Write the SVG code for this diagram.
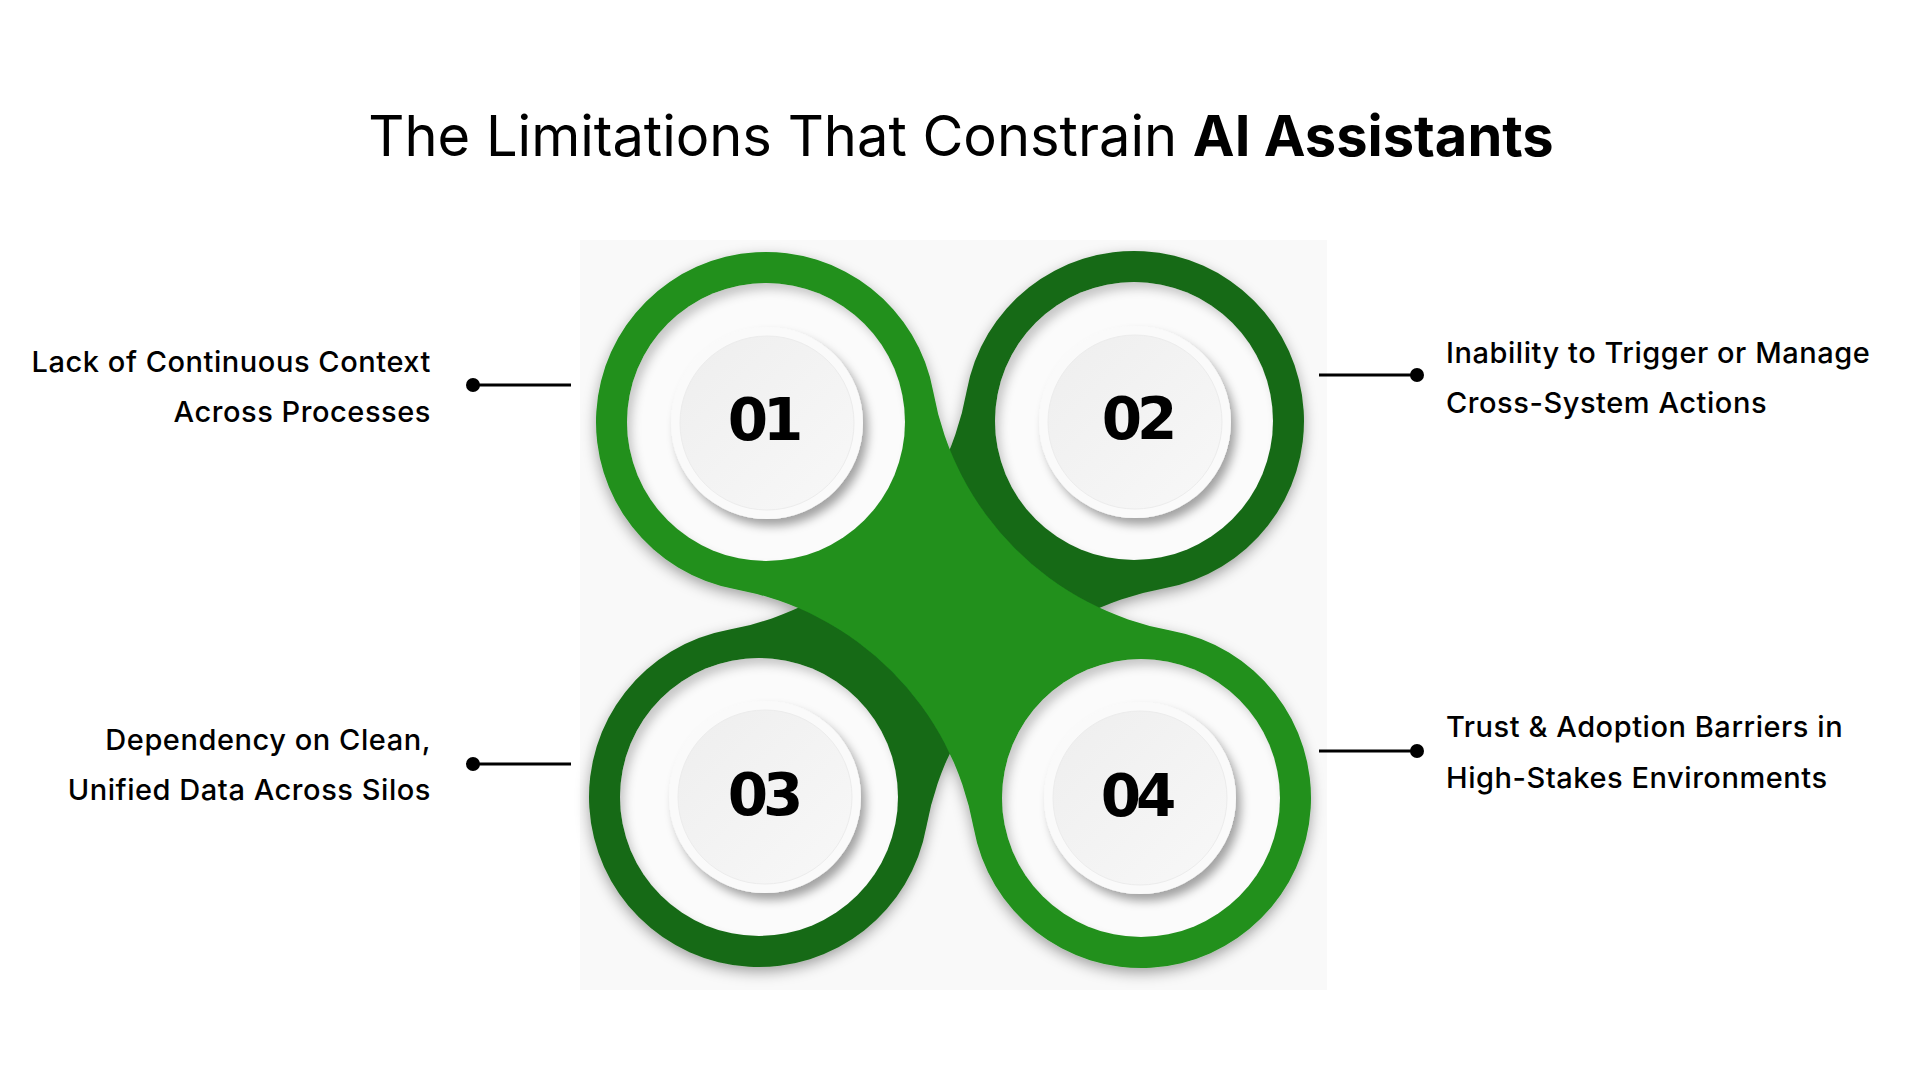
<svg xmlns="http://www.w3.org/2000/svg" width="1920" height="1080" viewBox="0 0 1920 1080">
  <defs>
    <style>
      .title { font-family: Inter, "Liberation Sans", sans-serif; font-size: 56px; fill: #000; }
      .label { font-family: Inter, "Liberation Sans", sans-serif; font-size: 29px; font-weight: 500; letter-spacing: 0.55px; fill: #000; }
      .num { font-family: "DejaVu Sans", "Liberation Sans", sans-serif; font-size: 58px; font-weight: 700; fill: #000; text-anchor: middle; letter-spacing: -5px; }
      .bright { fill: #20901c; }
      .dark { fill: #186a16; }
      .well { fill: #fbfbfb; }
      .rim { fill: #fafafa; }
      .face { fill: url(#faceGrad); stroke: #ececec; stroke-width: 1; }
      .conn line { stroke: #000; stroke-width: 3; }
      .conn circle { fill: #000; }
    </style>
    <linearGradient id="faceGrad" x1="0" y1="0" x2="1" y2="1">
      <stop offset="0" stop-color="#eeeeee"/>
      <stop offset="1" stop-color="#f8f8f8"/>
    </linearGradient>
    <filter id="bodyShadow" x="-20%" y="-20%" width="140%" height="140%">
      <feDropShadow dx="0" dy="5" stdDeviation="7" flood-color="#000" flood-opacity="0.35"/>
    </filter>
    <filter id="inset" x="-10%" y="-10%" width="120%" height="120%">
      <feFlood flood-color="#000" flood-opacity="0.4" result="f"/>
      <feComposite in="f" in2="SourceAlpha" operator="out" result="outside"/>
      <feOffset in="outside" dx="5" dy="7" result="off"/>
      <feGaussianBlur in="off" stdDeviation="5" result="blur"/>
      <feComposite in="blur" in2="SourceAlpha" operator="in" result="sh"/>
      <feMerge><feMergeNode in="SourceGraphic"/><feMergeNode in="sh"/></feMerge>
    </filter>
    <filter id="discShadow" x="-30%" y="-30%" width="160%" height="160%">
      <feDropShadow dx="5" dy="7" stdDeviation="5" flood-color="#000" flood-opacity="0.35"/>
    </filter>
  </defs>

  <rect width="1920" height="1080" fill="#ffffff"/>
  <rect x="580" y="240" width="747" height="750" fill="#f9f9f9"/>

  <text class="title" x="961" y="156" text-anchor="middle">The Limitations That Constrain <tspan font-weight="700">AI Assistants</tspan></text>

  <g id="body" filter="url(#bodyShadow)">
    <path class="dark" d="M 966.68 390.93 A 296 296 0 0 1 728.48 629.76 A 170 170 0 1 0 926.32 827.07 A 296 296 0 0 1 1164.52 588.24 A 170 170 0 1 0 966.68 390.93 Z"/>
    <path class="bright" d="M 933.32 391.93 A 296 296 0 0 0 1171.52 630.76 A 170 170 0 1 1 973.68 828.07 A 296 296 0 0 0 735.48 589.24 A 170 170 0 1 1 933.32 391.93 Z"/>
  </g>

  <g id="connectors" class="conn">
    <line x1="473" y1="385" x2="571" y2="385"/>
    <circle cx="473" cy="385" r="7"/>
    <line x1="1319" y1="375" x2="1417" y2="375"/>
    <circle cx="1417" cy="375" r="7"/>
    <line x1="473" y1="764" x2="571" y2="764"/>
    <circle cx="473" cy="764" r="7"/>
    <line x1="1319" y1="751" x2="1417" y2="751"/>
    <circle cx="1417" cy="751" r="7"/>
  </g>

  <g id="node-01">
    <circle class="well" cx="766" cy="422" r="139" filter="url(#inset)"/>
    <circle class="rim" cx="767" cy="423" r="96" filter="url(#discShadow)"/>
    <circle class="face" cx="767" cy="423" r="87"/>
    <text class="num" x="763" y="440">01</text>
    <text class="label" x="431" y="372" text-anchor="end">Lack of Continuous Context</text>
    <text class="label" x="431" y="422" text-anchor="end">Across Processes</text>
  </g>

  <g id="node-02">
    <circle class="well" cx="1134" cy="421" r="139" filter="url(#inset)"/>
    <circle class="rim" cx="1135" cy="422" r="96" filter="url(#discShadow)"/>
    <circle class="face" cx="1135" cy="422" r="87"/>
    <text class="num" x="1137" y="439">02</text>
    <text class="label" x="1446" y="363">Inability to Trigger or Manage</text>
    <text class="label" x="1446" y="413">Cross-System Actions</text>
  </g>

  <g id="node-03">
    <circle class="well" cx="759" cy="797" r="139" filter="url(#inset)"/>
    <circle class="rim" cx="765" cy="797" r="96" filter="url(#discShadow)"/>
    <circle class="face" cx="765" cy="797" r="87"/>
    <text class="num" x="763" y="815">03</text>
    <text class="label" x="431" y="750" text-anchor="end">Dependency on Clean,</text>
    <text class="label" x="431" y="800" text-anchor="end">Unified Data Across Silos</text>
  </g>

  <g id="node-04">
    <circle class="well" cx="1141" cy="798" r="139" filter="url(#inset)"/>
    <circle class="rim" cx="1140" cy="798" r="96" filter="url(#discShadow)"/>
    <circle class="face" cx="1140" cy="798" r="87"/>
    <text class="num" x="1136" y="816">04</text>
    <text class="label" x="1446" y="737">Trust &amp; Adoption Barriers in</text>
    <text class="label" x="1446" y="788">High-Stakes Environments</text>
  </g>
</svg>
